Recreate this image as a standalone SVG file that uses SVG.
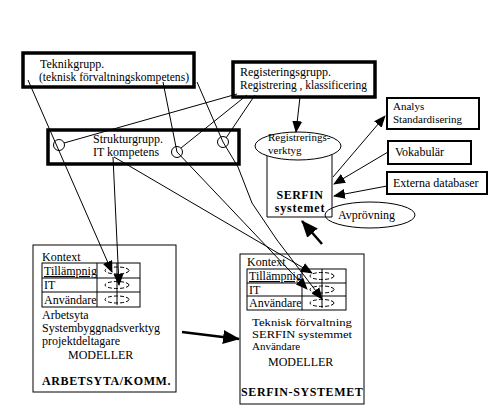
<svg xmlns="http://www.w3.org/2000/svg" width="489" height="406" viewBox="0 0 489 406">
<style>
text{font-family:"Liberation Serif","Times New Roman",serif;font-size:12px;fill:#000}
.s{font-size:11px}
.b{font-weight:bold}
.thick{fill:#fff;stroke:#000;stroke-width:3.5}
.med{fill:#fff;stroke:#000;stroke-width:2}
.thin{fill:#fff;stroke:#000;stroke-width:1}
.ln{fill:none;stroke:#000;stroke-width:1}
.lnb{fill:none;stroke:#000;stroke-width:2.5}
.dash{fill:none;stroke:#000;stroke-width:1;stroke-dasharray:4 2}
.jn{fill:none;stroke:#000;stroke-width:1}
</style>
<defs>
<marker id="ah" markerUnits="userSpaceOnUse" markerWidth="12" markerHeight="10" refX="11" refY="5" orient="auto"><path d="M0,0 L12,5 L0,10 z" fill="#000"/></marker>
<marker id="ahb" markerUnits="userSpaceOnUse" markerWidth="17" markerHeight="14" refX="16" refY="7" orient="auto"><path d="M0,0 L17,7 L0,14 z" fill="#000"/></marker>
</defs>
<rect width="489" height="406" fill="#fff"/>

<g id="teknikgrupp">
<rect class="thick" x="23" y="53" width="171" height="34"/>
<text x="40" y="68">Teknikgrupp.</text>
<text x="39" y="81" textLength="150" lengthAdjust="spacingAndGlyphs">(teknisk förvaltningskompetens)</text>
</g>

<g id="registeringsgrupp">
<rect class="thick" x="233" y="62" width="142" height="35"/>
<text x="240" y="76">Registeringsgrupp.</text>
<text x="240" y="89" textLength="127" lengthAdjust="spacingAndGlyphs">Registrering , klassificering</text>
</g>

<g id="strukturgrupp">
<rect class="thick" x="48" y="130" width="191" height="34"/>
<text x="93" y="143">Strukturgrupp.</text>
<text x="93" y="156">IT kompetens</text>
</g>

<g id="serfin-systemet-db">
<path class="thin" d="M267,155 L267,217 L332,217 L332,155"/>
<ellipse class="thin" cx="298" cy="146" rx="43" ry="14"/>
<text class="s" x="268" y="141">Registrerings-</text>
<text class="s" x="268" y="154">verktyg</text>
<text class="b" x="300" y="199" text-anchor="middle" letter-spacing="0.5">SERFIN</text>
<text class="b" x="300" y="212" text-anchor="middle" letter-spacing="0.8">systemet</text>
</g>

<g id="avprovning">
<ellipse class="ln" cx="370" cy="215" rx="45" ry="13"/>
<text x="338" y="219">Avprövning</text>
</g>

<g id="analys">
<rect class="med" x="387" y="98" width="92" height="31"/>
<text class="s" x="393" y="110">Analys</text>
<text class="s" x="393" y="123">Standardisering</text>
</g>

<g id="vokabular">
<rect class="med" x="388" y="141" width="83" height="23"/>
<text x="395" y="156">Vokabulär</text>
</g>

<g id="externa">
<rect class="med" x="387" y="172" width="100" height="22"/>
<text x="393" y="187">Externa databaser</text>
</g>

<g id="arbetsyta">
<rect class="thin" x="33" y="245" width="143" height="147"/>
<text x="42" y="261">Kontext</text>
<rect class="ln" x="42" y="263" width="98" height="44"/>
<line class="ln" x1="42" y1="278" x2="140" y2="278"/>
<line class="ln" x1="42" y1="292" x2="140" y2="292"/>
<line class="ln" x1="97" y1="263" x2="97" y2="307"/>
<text x="44" y="275" text-decoration="underline">Tillämpnig</text>
<text x="44" y="289">IT</text>
<text x="44" y="304">Användare</text>
<ellipse class="dash" cx="117" cy="270.5" rx="12" ry="3.5"/>
<ellipse class="dash" cx="117" cy="285" rx="12" ry="3.5"/>
<ellipse class="dash" cx="117" cy="299.5" rx="12" ry="3.5"/>
<line class="ln" x1="117" y1="263" x2="117" y2="305"/>
<text x="42" y="319">Arbetsyta</text>
<text x="42" y="332">Systembyggnadsverktyg</text>
<text x="42" y="345">projektdeltagare</text>
<text x="68" y="359">MODELLER</text>
<text class="b" x="42" y="385" letter-spacing="0.6">ARBETSYTA/KOMM.</text>
</g>

<g id="serfin-systemet">
<rect class="thin" x="240" y="254" width="124" height="150"/>
<text x="247" y="266">Kontext</text>
<rect class="ln" x="247" y="269" width="99" height="41"/>
<line class="ln" x1="247" y1="283" x2="346" y2="283"/>
<line class="ln" x1="247" y1="296" x2="346" y2="296"/>
<line class="ln" x1="302" y1="269" x2="302" y2="310"/>
<text x="249" y="280" text-decoration="underline">Tillämpnig</text>
<text x="249" y="294">IT</text>
<text x="249" y="307">Användare</text>
<ellipse class="dash" cx="322" cy="276" rx="12" ry="3.5"/>
<ellipse class="dash" cx="322" cy="289.5" rx="12" ry="3.5"/>
<ellipse class="dash" cx="322" cy="303" rx="12" ry="3.5"/>
<line class="ln" x1="322" y1="269" x2="322" y2="308"/>
<text class="s" x="252" y="326" textLength="100" lengthAdjust="spacingAndGlyphs">Teknisk förvaltning</text>
<text class="s" x="252" y="338" textLength="100" lengthAdjust="spacingAndGlyphs">SERFIN systemmet</text>
<text class="s" x="252" y="350">Användare</text>
<text x="268" y="366">MODELLER</text>
<text class="b" x="241" y="396" letter-spacing="0.6">SERFIN-SYSTEMET</text>
</g>

<g id="connectors">
<circle class="jn" cx="59" cy="145" r="5.5"/>
<circle class="jn" cx="177" cy="152" r="5.5"/>
<circle class="jn" cx="223" cy="142" r="5.5"/>
<line class="ln" x1="28" y1="80" x2="112" y2="272" marker-end="url(#ah)"/>
<line class="ln" x1="113" y1="157" x2="119" y2="285" marker-end="url(#ah)"/>
<line class="ln" x1="114" y1="157" x2="312" y2="273" marker-end="url(#ah)"/>
<polyline class="ln" points="163,82 177,152 307,289" marker-end="url(#ah)"/>
<polyline class="ln" points="197,82 223,142 238,167 252,203 277,240 322,299" marker-end="url(#ah)"/>
<line class="ln" x1="237" y1="94" x2="64" y2="143"/>
<line class="ln" x1="247" y1="95" x2="181" y2="148"/>
<line class="ln" x1="255" y1="95" x2="226" y2="138"/>
<line class="ln" x1="300" y1="97" x2="296" y2="132" marker-end="url(#ah)"/>
<line class="ln" x1="333" y1="177" x2="385" y2="116" marker-end="url(#ah)"/>
<line class="ln" x1="388" y1="152" x2="334" y2="184" marker-end="url(#ah)"/>
<line class="ln" x1="387" y1="186" x2="334" y2="196" marker-end="url(#ah)"/>
<line class="lnb" x1="322" y1="244" x2="302" y2="221" marker-end="url(#ahb)"/>
<line class="lnb" x1="182" y1="332" x2="239" y2="339" marker-end="url(#ahb)"/>
</g>
</svg>
